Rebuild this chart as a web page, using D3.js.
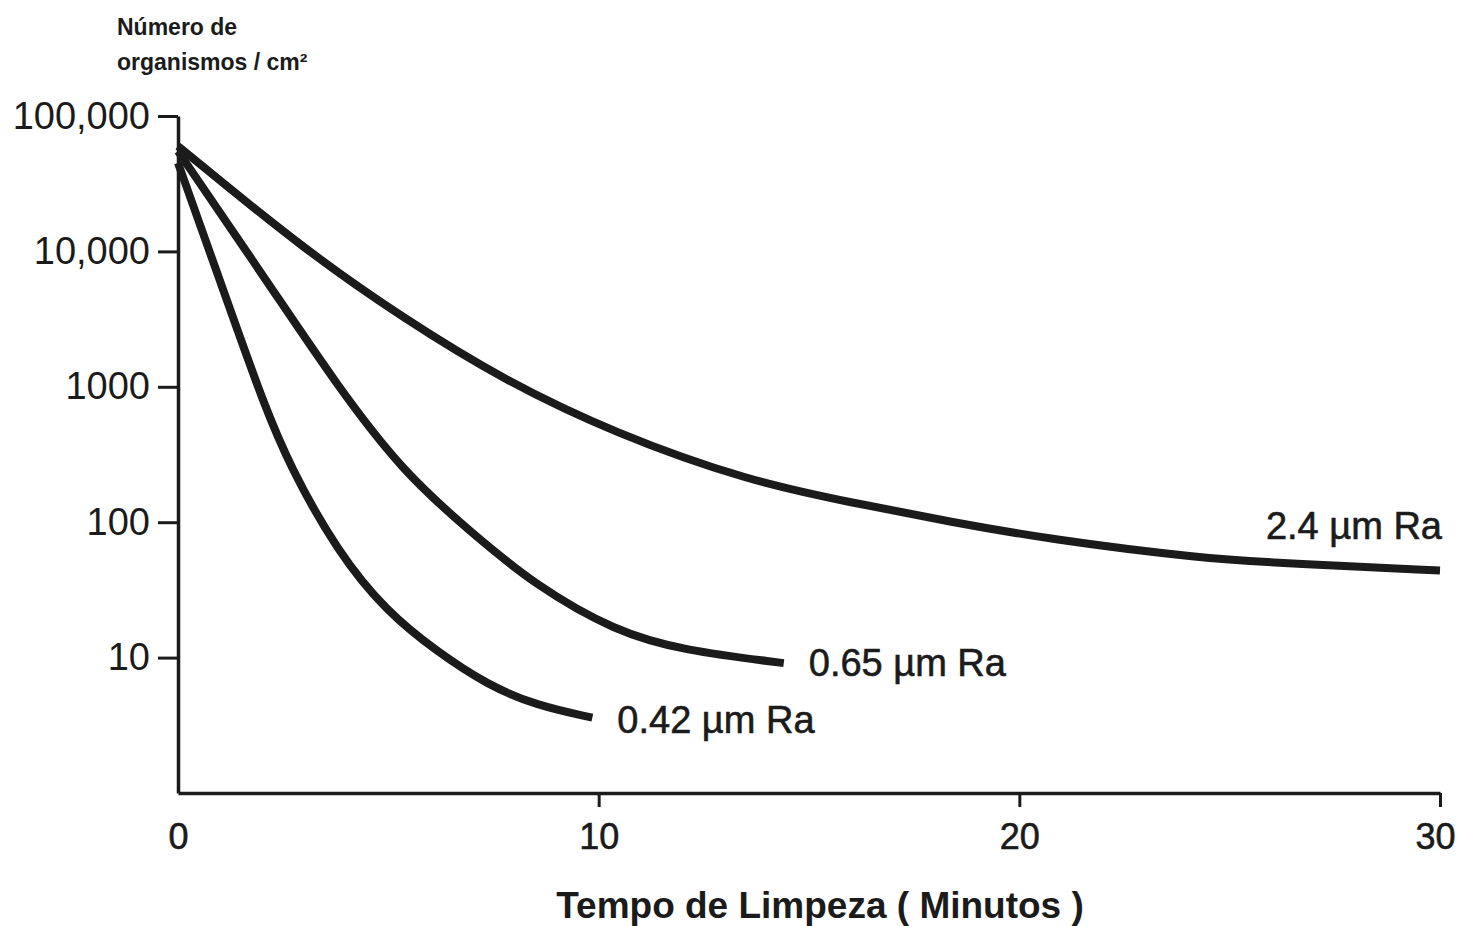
<!DOCTYPE html>
<html>
<head>
<meta charset="utf-8">
<script src="https://cdn.jsdelivr.net/npm/d3@7"></script>
<style>
  body { margin: 0; background: #fff; }
  text { font-family: "Liberation Sans", Arial, sans-serif; fill: #1b1b1b; }
</style>
</head>
<body>
<div id="chart"></div>
<script>
// tempo (minutos) e número de organismos / cm2
var tempo24 = [0, 3, 5.4, 7.7, 10.4, 13.6, 16, 18.4, 20.7, 24.3, 26.7, 30];
var org24   = [60000, 10300, 3150, 1140, 450, 200, 140, 100, 75, 54, 49, 44];

var tempo065 = [0, 2.2, 3.8, 5.35, 6.95, 8.5, 10.4, 12, 14.4];
var org065   = [55000, 5500, 1000, 235, 85, 34, 15.6, 11.3, 9.1];

var tempo042 = [0, 1.4, 2.0, 2.65, 3.8, 4.95, 6.15, 7.35, 8.5, 9.85];
var org042   = [45000, 2700, 810, 260, 60, 22, 11.1, 6.3, 4.45, 3.6];

var seriesNames = ['2.4 \u00b5m Ra', '0.65 \u00b5m Ra', '0.42 \u00b5m Ra'];

var yTicks = [10, 100, 1000, 10000, 100000];
var yTickLabels = ['10', '100', '1000', '10,000', '100,000'];
var xTicks = [0, 10, 20, 30];

var width = 1460, height = 926;

var svg = d3.select('#chart')
  .append('svg')
  .attr('width', width)
  .attr('height', height);

var x = d3.scaleLinear().domain([0, 30]).range([178, 1440]);
var y = d3.scaleLog().domain([1, 100000]).range([793, 116]);

// eixo y
var yAxis = svg.append('g')
  .attr('transform', 'translate(' + x(0) + ',0)')
  .call(d3.axisLeft(y)
    .tickValues(yTicks)
    .tickFormat(function (d, i) { return yTickLabels[i]; })
    .tickSize(20)
    .tickSizeOuter(0)
    .tickPadding(8));

// eixo x
var xAxis = svg.append('g')
  .attr('transform', 'translate(0,' + y(1) + ')')
  .call(d3.axisBottom(x)
    .tickValues(xTicks)
    .tickSize(14)
    .tickSizeOuter(0)
    .tickPadding(16));

xAxis.selectAll('.tick').filter(function (d) { return d === 0; })
  .select('line').remove();

[yAxis, xAxis].forEach(function (g) {
  g.select('.domain').attr('stroke', '#1b1b1b').attr('stroke-width', 3.5);
  g.selectAll('.tick line').attr('stroke', '#1b1b1b').attr('stroke-width', 3);
  g.selectAll('.tick text')
    .attr('font-size', 38)
    .attr('fill', '#1b1b1b')
    .style('font-family', '"Liberation Sans", Arial, sans-serif');
});

xAxis.selectAll('.tick text')
  .attr('font-size', 36)
  .attr('stroke', '#1b1b1b').attr('stroke-width', 0.6);
xAxis.selectAll('.tick').filter(function (d) { return d === 30; })
  .select('text').attr('dx', -5);

// curvas
var series = [
  { name: seriesNames[0], t: tempo24, v: org24 },
  { name: seriesNames[1], t: tempo065, v: org065 },
  { name: seriesNames[2], t: tempo042, v: org042 }
];

var line = d3.line()
  .x(function (d) { return x(d[0]); })
  .y(function (d) { return y(d[1]); })
  .curve(d3.curveBasis);

series.forEach(function (s) {
  var pts = s.t.map(function (t, i) { return [t, s.v[i]]; });
  svg.append('path')
    .datum(pts)
    .attr('d', line)
    .attr('fill', 'none')
    .attr('stroke', '#1b1b1b')
    .attr('stroke-width', 8);
});

// rótulos das curvas
function lastOf(a) { return a[a.length - 1]; }

svg.append('text')
  .attr('x', x(lastOf(tempo24)) + 2)
  .attr('y', y(lastOf(org24)) - 45)
  .attr('dy', '0.35em')
  .attr('text-anchor', 'end')
  .attr('font-size', 38)
  .attr('stroke', '#1b1b1b').attr('stroke-width', 0.6)
  .text(seriesNames[0]);

svg.append('text')
  .attr('x', x(lastOf(tempo065)) + 25)
  .attr('y', y(lastOf(org065)))
  .attr('dy', '0.35em')
  .attr('font-size', 38)
  .attr('stroke', '#1b1b1b').attr('stroke-width', 0.6)
  .text(seriesNames[1]);

svg.append('text')
  .attr('x', x(lastOf(tempo042)) + 25)
  .attr('y', y(lastOf(org042)) + 2)
  .attr('dy', '0.35em')
  .attr('font-size', 38)
  .attr('stroke', '#1b1b1b').attr('stroke-width', 0.6)
  .text(seriesNames[2]);

// títulos
svg.append('text')
  .attr('x', 820)
  .attr('y', 918)
  .attr('text-anchor', 'middle')
  .attr('font-size', 37)
  .attr('font-weight', 'bold')
  .text('Tempo de Limpeza ( Minutos )');

var yTitle = svg.append('text')
  .attr('x', 117)
  .attr('y', 35)
  .attr('font-size', 23)
  .attr('font-weight', 'bold');
yTitle.append('tspan').attr('x', 117).text('N\u00famero de');
yTitle.append('tspan').attr('x', 117).attr('dy', 35).text('organismos / cm\u00b2');
</script>
</body>
</html>
